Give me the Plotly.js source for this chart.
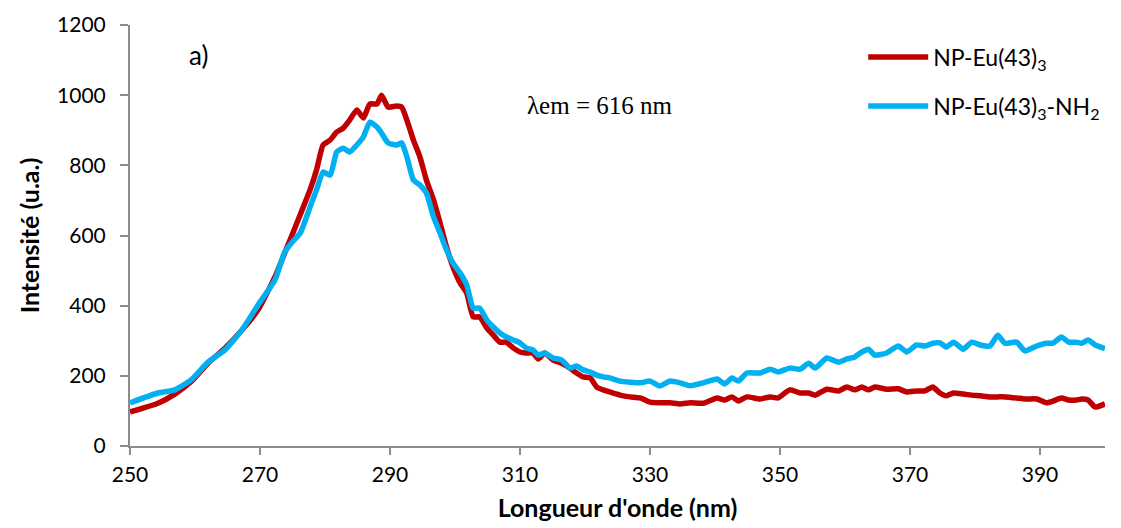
<!DOCTYPE html>
<html>
<head>
<meta charset="utf-8">
<script src="https://cdn.plot.ly/plotly-3.0.1.min.js"></script>
<style>html,body{margin:0;padding:0;background:#fff;}#chart{width:1121px;height:528px;}</style>
</head>
<body>
<div id="chart"></div>
<script>
// Wavelength (nm) positions at which values were read
const wavelength = [250,254.3,256.9,259.5,262,264.6,267.2,269.7,272.3,273.8,274.9,276.2,277.7,278.7,279.7,280.8,281.8,282.8,283.8,284.9,285.9,286.9,288,288.7,289.7,291,291.8,292.6,293.6,294.6,295.6,296.7,297.7,298.7,299.7,300.8,301.8,302.8,303.8,304.9,305.9,306.9,307.9,309,310,311,312,312.8,313.8,315.1,316.4,317.7,318.7,319.7,320.8,321.8,322.8,323.8,325.4,326.9,328.5,330,331.5,333.1,334.6,336.2,338.2,340.3,341.5,342.6,343.6,344.9,346.9,348.5,349.7,351.5,353.1,354.4,355.4,357.2,359,360.3,361.5,362.6,363.6,364.6,366.4,368.2,369.5,371,372.3,373.5,374.6,375.6,376.7,378.2,379.5,380.8,382.3,383.5,384.6,386.4,387.7,389.5,391,392,393.3,394.4,395.6,396.4,397.4,398.5,400];

// NP-Eu(43)3
const seriesEu = [97,122,148,185,236,279,330,388,482,550,600,660,730,787,858,872,895,906,929,958,935,975,975,1000,966,969,966,929,872,824,758,701,636,567,510,464,436,368,368,336,316,296,296,279,268,265,265,248,265,245,236,222,208,197,194,168,160,154,145,140,137,125,123,123,120,123,122,137,131,140,128,140,134,140,137,160,151,151,145,162,157,168,160,168,160,168,162,163,154,157,157,168,151,143,151,148,145,143,140,140,140,137,134,134,123,128,137,131,131,134,131,111,120];

// NP-Eu(43)3-NH2
const seriesEuNH2 = [123,151,160,190,239,274,330,402,473,553,580,607,681,730,781,772,838,849,838,858,881,923,909,892,864,858,864,824,758,744,721,653,607,559,521,493,459,393,393,359,339,322,311,302,294,279,274,259,265,251,245,222,228,217,211,202,197,194,185,182,180,185,171,185,180,172,180,191,177,194,185,208,208,219,211,222,219,236,222,251,239,248,254,268,276,259,265,285,268,288,285,293,294,282,296,276,296,288,285,316,293,296,271,285,293,293,311,296,296,293,302,288,278];

const seriesNames = ['NP-Eu(43)<sub>3</sub>', 'NP-Eu(43)<sub>3</sub>-NH<sub>2</sub>'];
const xTickVals = [250,270,290,310,330,350,370,390];
const yTickVals = [0,200,400,600,800,1000,1200];

const traces = [
  {x: wavelength, y: seriesEu, name: seriesNames[0], type: 'scatter', mode: 'lines',
   legendgroup: 'a', line: {color: '#C00000', width: 5.5, shape: 'spline', smoothing: 0.5}},
  {x: wavelength, y: seriesEuNH2, name: seriesNames[1], type: 'scatter', mode: 'lines',
   legendgroup: 'b', line: {color: '#00B0F0', width: 5.5, shape: 'spline', smoothing: 0.5}}
];

const layout = {
  width: 1121, height: 528,
  margin: {l: 130, r: 16, t: 25, b: 82},
  paper_bgcolor: '#fff', plot_bgcolor: '#fff',
  font: {family: 'Lato, Carlito, sans-serif', size: 21, color: '#000'},
  showlegend: true,
  legend: {x: 0.752, y: 0.975, xanchor: 'left', yanchor: 'top', bgcolor: 'rgba(0,0,0,0)',
           font: {size: 23, family: 'Lato, sans-serif'}, traceorder: 'grouped', tracegroupgap: 16,
           itemwidth: 60},
  xaxis: {range: [250, 400], tickvals: xTickVals, showgrid: false, zeroline: false,
          showline: true, linecolor: '#8c8c8c', linewidth: 2, ticks: 'outside', ticklen: 7,
          tickcolor: '#8c8c8c', tickwidth: 2, tickfont: {size: 21}, ticklabelstandoff: 2,
          title: {text: "<b>Longueur d'onde (nm)</b>", font: {size: 25}, standoff: 14}},
  yaxis: {range: [0, 1200], tickvals: yTickVals, showgrid: false, zeroline: false,
          showline: true, linecolor: '#8c8c8c', linewidth: 2, ticks: 'outside', ticklen: 8,
          tickcolor: '#8c8c8c', tickwidth: 2, tickfont: {size: 21}, ticklabelstandoff: 10,
          title: {text: '<b>Intensité (u.a.)</b>', font: {size: 25}, standoff: 10}},
  annotations: [
    {text: 'a)', x: 0.058, y: 0.929, xref: 'paper', yref: 'paper', showarrow: false,
     xanchor: 'left', yanchor: 'middle', font: {size: 26, family: 'Lato, sans-serif'}},
    {text: 'λem = 616 nm', x: 0.405, y: 0.808, xref: 'paper', yref: 'paper', showarrow: false,
     xanchor: 'left', yanchor: 'middle', font: {size: 25, family: '"Liberation Serif", "Times New Roman", serif'}}
  ]
};

Plotly.newPlot('chart', traces, layout, {displayModeBar: false, staticPlot: true});
</script>
</body>
</html>
